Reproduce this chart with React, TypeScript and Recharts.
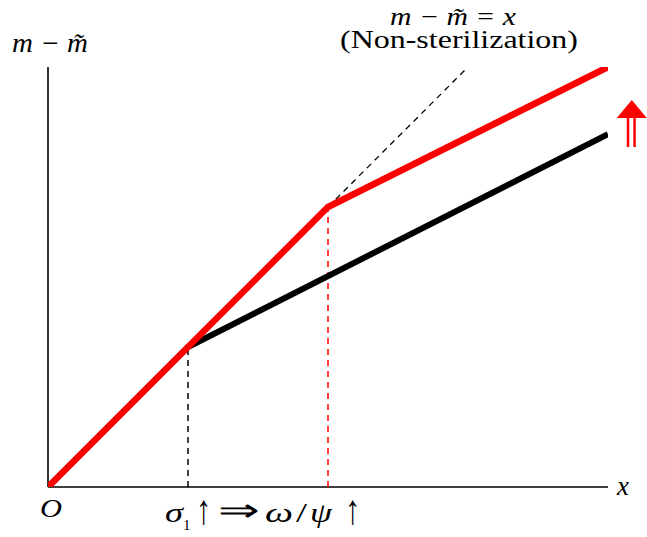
import React from "react";
import { LineChart, Line, XAxis, YAxis, ReferenceLine, ReferenceDot, Customized } from "recharts";

// Monetary base gap (m - m̃) as a function of x
const sterilizedBase = [
  { x: 0, y: 0 },
  { x: 1, y: 1 },
  { x: 4, y: 2.52 },
];
const sterilizedRaised = [
  { x: 0, y: 0 },
  { x: 1, y: 1 },
  { x: 2, y: 2 },
  { x: 4, y: 3 },
];
const nonSterilization = [
  { x: 2, y: 2 },
  { x: 3, y: 3 },
];
const kinkSigma = 1;
const kinkOmega = 2;
const xMax = 4;
const yMax = 3;

const W = 647;
const H = 537;
const SERIF = "Liberation Serif, Times New Roman, serif";

type TProps = {
  x: number;
  y: number;
  size?: number;
  italic?: boolean;
  len?: number;
  anchor?: "start" | "middle" | "end";
  children: React.ReactNode;
};

const T = ({ x, y, size = 27, italic, len, anchor = "start", children }: TProps) => (
  <text
    x={x}
    y={y}
    fontFamily={SERIF}
    fontSize={size}
    fontStyle={italic ? "italic" : "normal"}
    textAnchor={anchor}
    fill="#000"
    textLength={len}
    lengthAdjust={len ? "spacingAndGlyphs" : undefined}
  >
    {children}
  </text>
);

const UpArrow = (props: any) => {
  const { cx, cy } = props;
  if (cx == null || cy == null) return null;
  return (
    <g fill="#ff0000" stroke="none">
      <polygon points={`${cx - 15},${cy - 5} ${cx},${cy - 23} ${cx + 15},${cy - 5}`} />
      <rect x={cx - 5} y={cy - 6} width={2.5} height={30} />
      <rect x={cx + 1.5} y={cy - 6} width={2.5} height={30} />
    </g>
  );
};

const Annotations = () => (
  <g>
    {/* y-axis title */}
    <T x={12} y={52} italic len={76}>m − m&#x0303;</T>
    {/* reference line title */}
    <T x={390} y={25} italic size={25} len={126}>m − m&#x0303; = x</T>
    <T x={340} y={48} size={26} len={238}>(Non-sterilization)</T>
    {/* origin and x-axis title */}
    <T x={40} y={517} italic size={26} len={22}>O</T>
    <T x={617} y={495} italic size={27}>x</T>
    {/* kink caption */}
    <T x={165} y={522} italic size={28} len={18}>σ</T>
    <T x={183} y={530} size={15}>1</T>
    <T x={196} y={524} size={42} len={15}>↑</T>
    <T x={218} y={521} size={32} len={42}>⇒</T>
    <T x={265} y={522} italic size={28} len={28}>ω</T>
    <T x={296} y={522} size={28} len={11}>/</T>
    <T x={310} y={522} italic size={28} len={22}>ψ</T>
    <T x={345} y={524} size={42} len={15}>↑</T>
  </g>
);

export default function App() {
  return (
    <div style={{ position: "absolute", left: 0, top: 0, width: W, height: H, background: "#fff" }}>
      <LineChart width={W} height={H} margin={{ top: 67, right: 39, bottom: 50, left: 48 }}>
        <XAxis type="number" dataKey="x" domain={[0, xMax]} allowDataOverflow hide />
        <YAxis type="number" dataKey="y" domain={[0, yMax]} allowDataOverflow hide />
        <ReferenceLine segment={[{ x: 0, y: 0 }, { x: xMax, y: 0 }]} stroke="#000" strokeWidth={1.6} ifOverflow="visible" />
        <ReferenceLine segment={[{ x: 0, y: 0 }, { x: 0, y: yMax }]} stroke="#000" strokeWidth={1.6} ifOverflow="visible" />
        <ReferenceLine
          segment={[{ x: kinkSigma, y: 0 }, { x: kinkSigma, y: 1 }]}
          stroke="#000"
          strokeWidth={1.5}
          strokeDasharray="6 5"
          ifOverflow="visible"
        />
        <ReferenceLine
          segment={[{ x: kinkOmega, y: 0 }, { x: kinkOmega, y: 2 }]}
          stroke="#ff0000"
          strokeWidth={1.5}
          strokeDasharray="6 5"
          ifOverflow="visible"
        />
        <Line data={nonSterilization} dataKey="y" type="linear" stroke="#000" strokeWidth={1.3} strokeDasharray="6 5" dot={false} activeDot={false} isAnimationActive={false} />
        <Line data={sterilizedBase} dataKey="y" type="linear" stroke="#000" strokeWidth={6} dot={false} activeDot={false} isAnimationActive={false} />
        <Line data={sterilizedRaised} dataKey="y" type="linear" stroke="#ff0000" strokeWidth={6.5} dot={false} activeDot={false} isAnimationActive={false} />
        <ReferenceDot x={4.17} y={2.6} r={0} ifOverflow="visible" shape={UpArrow} />
        <Customized component={Annotations} />
      </LineChart>
    </div>
  );
}
